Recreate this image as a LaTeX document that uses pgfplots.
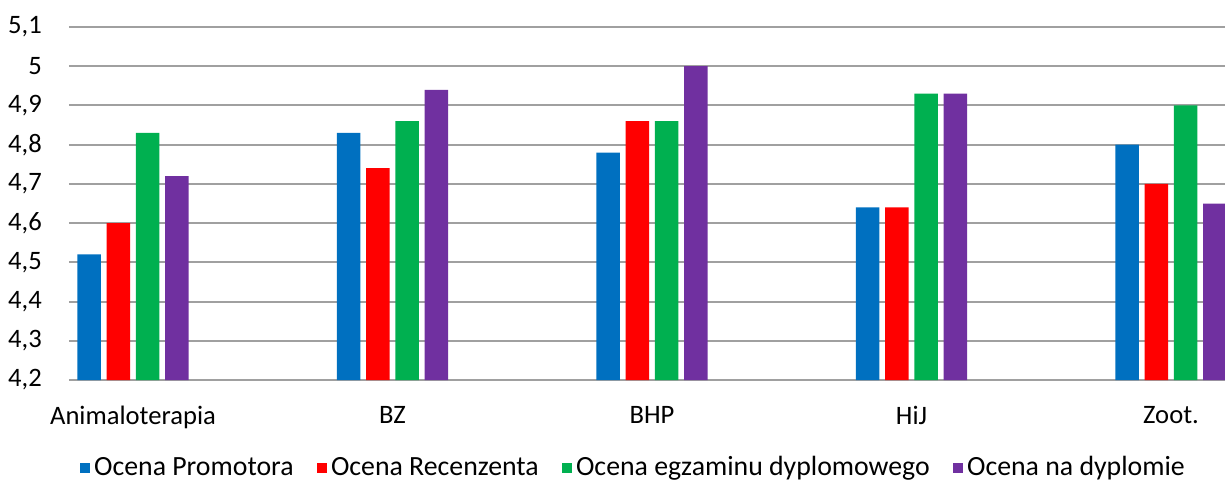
\documentclass[border=0pt]{standalone}
\usepackage{pgfplots}
\pgfplotsset{compat=1.18}
\usepackage{fontspec}
\setmainfont{Carlito}
\definecolor{cblue}{HTML}{0070C0}
\definecolor{cred}{HTML}{FF0000}
\definecolor{cgreen}{HTML}{00B050}
\definecolor{cpurple}{HTML}{7030A0}
\definecolor{cgrid}{HTML}{A0A0A0}
\begin{document}
\fontsize{13.3}{16}\selectfont
\begin{tikzpicture}
\begin{axis}[
    name=ax,
    at={(0,0)}, anchor=south west,
    scale only axis,
    width=578pt, height=176.5pt,
    ybar=2.9pt,
    bar width=11.75pt,
    xmin=-0.2466, xmax=4.208,
    ymin=4.2, ymax=5.1,
    xtick={0,1,2,3,4},
    xticklabels={Animaloterapia,BZ,BHP,HiJ,Zoot.},
    ytick={4.2,4.3,4.4,4.5,4.6,4.7,4.8,4.9,5.0,5.1},
    /pgf/number format/use comma,
    /pgf/number format/assume math mode=true,
    ymajorgrids,
    grid style={cgrid, line width=1pt},
    axis line style={draw=none},
    major tick length=0pt,
    xticklabel style={font=\fontsize{13.3}{16}\selectfont, yshift=-8.5pt},
    yticklabel style={font=\fontsize{13.3}{16}\selectfont, xshift=-9pt},
    legend columns=-1,
    legend style={draw=none, at={(axis description cs:0.489,-0.25)}, anchor=center,
        font=\fontsize{13.9}{16}\selectfont, column sep=0pt,
        /tikz/every even column/.append style={column sep=9.5pt}},
    legend image code/.code={\fill[#1] (2pt,-2.6pt) rectangle (7.2pt,2.6pt);},
]
\addplot[fill=cblue, draw=none] coordinates {(0,4.52) (1,4.83) (2,4.78) (3,4.64) (4,4.80)};
\addplot[fill=cred, draw=none] coordinates {(0,4.60) (1,4.74) (2,4.86) (3,4.64) (4,4.70)};
\addplot[fill=cgreen, draw=none] coordinates {(0,4.83) (1,4.86) (2,4.86) (3,4.93) (4,4.90)};
\addplot[fill=cpurple, draw=none] coordinates {(0,4.72) (1,4.94) (2,5.00) (3,4.93) (4,4.65)};
\legend{Ocena Promotora, Ocena Recenzenta, Ocena egzaminu dyplomowego, Ocena na dyplomie}
\end{axis}
\pgfresetboundingbox
\path (-34.5pt,-51pt) rectangle (578pt,190pt);
\end{tikzpicture}
\end{document}
